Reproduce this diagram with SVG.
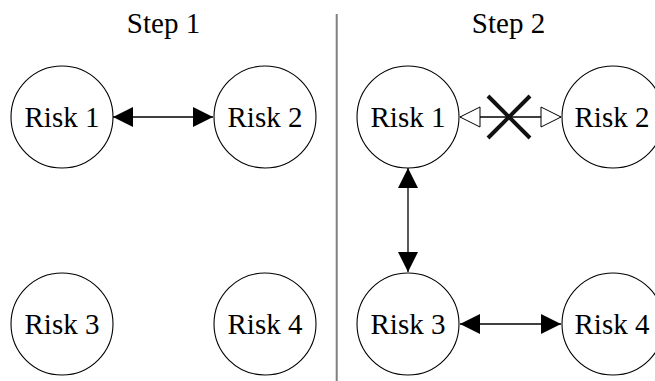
<svg xmlns="http://www.w3.org/2000/svg" width="655" height="381" viewBox="0 0 655 381" font-family="'Liberation Serif', 'Times New Roman', serif">
<style>
.node circle{fill:#fff;stroke:#000;stroke-width:1.1}
.lbl{font-size:29px;fill:#000;text-anchor:middle}
.edge{stroke:#000;stroke-width:1.3;fill:none}
.filled{marker-start:url(#ah);marker-end:url(#ah)}
.open{marker-start:url(#oh);marker-end:url(#oh)}
</style>
<defs>
<marker id="ah" viewBox="0 0 20 20" refX="20" refY="10" markerWidth="20" markerHeight="20" markerUnits="userSpaceOnUse" orient="auto-start-reverse">
<path d="M0,0 L20,10 L0,20 z" fill="#000"/>
</marker>
<marker id="oh" viewBox="-1 -1 22 22" refX="20" refY="10" markerWidth="22" markerHeight="22" markerUnits="userSpaceOnUse" orient="auto-start-reverse">
<path d="M0,0 L20,10 L0,20 z" fill="#fff" stroke="#000" stroke-width="1"/>
</marker>
</defs>
<rect width="655" height="381" fill="#fff"/>
<text class="lbl" font-family="Times New Roman, Liberation Serif, serif" x="163.5" y="33">Step 1</text>
<text class="lbl" font-family="Times New Roman, Liberation Serif, serif" x="508.5" y="33">Step 2</text>
<line x1="336.7" y1="14" x2="336.7" y2="381" stroke="#808080" stroke-width="2"/>
<g id="connectors">
<line class="edge filled" x1="113" y1="117" x2="213" y2="117"/>
<line class="edge open" x1="460" y1="117" x2="561" y2="117"/>
<line class="edge filled" x1="408" y1="168" x2="408" y2="272"/>
<line class="edge filled" x1="460" y1="324" x2="561" y2="324"/>
<g id="cross" stroke="#111" stroke-width="4" stroke-linecap="butt">
<line x1="488" y1="96" x2="530" y2="138"/>
<line x1="530" y1="96" x2="488" y2="138"/>
</g>
</g>
<g id="s1-risk1" class="node"><circle cx="62" cy="117" r="51"/><text class="lbl" font-family="Times New Roman, Liberation Serif, serif" x="62" y="127">Risk 1</text></g>
<g id="s1-risk2" class="node"><circle cx="265" cy="117" r="51"/><text class="lbl" font-family="Times New Roman, Liberation Serif, serif" x="265" y="127">Risk 2</text></g>
<g id="s1-risk3" class="node"><circle cx="62" cy="324" r="51"/><text class="lbl" font-family="Times New Roman, Liberation Serif, serif" x="62" y="334">Risk 3</text></g>
<g id="s1-risk4" class="node"><circle cx="265" cy="324" r="51"/><text class="lbl" font-family="Times New Roman, Liberation Serif, serif" x="265" y="334">Risk 4</text></g>
<g id="s2-risk1" class="node"><circle cx="408" cy="117" r="51"/><text class="lbl" font-family="Times New Roman, Liberation Serif, serif" x="408" y="127">Risk 1</text></g>
<g id="s2-risk2" class="node"><circle cx="613" cy="117" r="51"/><text class="lbl" font-family="Times New Roman, Liberation Serif, serif" x="612" y="127">Risk 2</text></g>
<g id="s2-risk3" class="node"><circle cx="408" cy="324" r="51"/><text class="lbl" font-family="Times New Roman, Liberation Serif, serif" x="408" y="334">Risk 3</text></g>
<g id="s2-risk4" class="node"><circle cx="613" cy="324" r="51"/><text class="lbl" font-family="Times New Roman, Liberation Serif, serif" x="612" y="334">Risk 4</text></g>
</svg>
